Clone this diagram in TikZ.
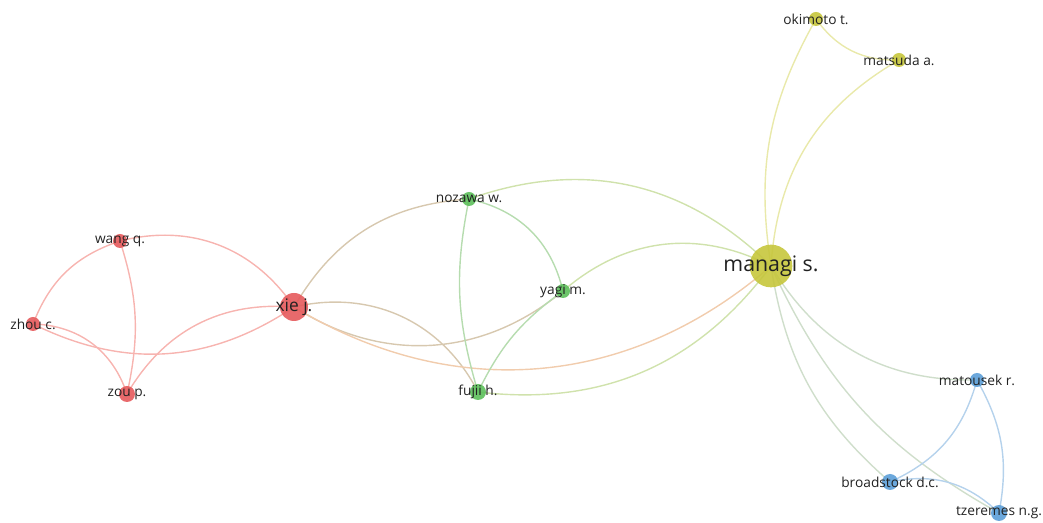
\documentclass[tikz,border=0pt]{standalone}
\usepackage{fontspec}
\setmainfont{Open Sans}
\pgfdeclarelayer{links}
\pgfsetlayers{links,main}
\definecolor{nRed}{HTML}{E65A5C}
\definecolor{nGreen}{HTML}{5CBF5A}
\definecolor{nYellow}{HTML}{C6C63C}
\definecolor{nBlue}{HTML}{5C9FD8}
\definecolor{eRed}{HTML}{F7B4B0}
\definecolor{eGreen}{HTML}{B6DCAF}
\definecolor{eYellow}{HTML}{E9E9AA}
\definecolor{eBlue}{HTML}{B5D2EC}
\definecolor{txt}{HTML}{222222}
\begin{document}
\begin{tikzpicture}[x=0.75pt,y=-0.75pt,
  author/.style={circle,inner sep=0pt,draw=none,fill opacity=0.9},
  small/.style={author,minimum size=10.5pt},
  mid/.style={author,minimum size=12pt},
  red/.style={fill=nRed},
  green/.style={fill=nGreen},
  yellow/.style={fill=nYellow},
  blue/.style={fill=nBlue},
  lab/.style={text=txt,inner sep=0pt,font=\fontsize{10.3}{12}\selectfont},
  link/.style={line width=1.05pt},
  lr/.style={link,draw=eRed},
  lg/.style={link,draw=eGreen},
  ly/.style={link,draw=eYellow},
  lb/.style={link,draw=eBlue},
  lrg/.style={link,draw=eRed!50!eGreen},
  lry/.style={link,draw=eRed!55!eYellow},
  lgy/.style={link,draw=eGreen!50!eYellow},
  lyb/.style={link,draw=eYellow!50!eBlue}]
\useasboundingbox (0,0) rectangle (1043,523);

% authors
\node[small,yellow] (okimoto) at (816,19) {};
\node[small,yellow] (matsuda) at (899,60) {};
\node[author,yellow,minimum size=32pt] (managi) at (771,266) {};
\node[small,green] (nozawa) at (469,199) {};
\node[small,green] (yagi) at (563,291) {};
\node[mid,green] (fujii) at (478,392) {};
\node[author,red,minimum size=21pt] (xie) at (294,307) {};
\node[small,red] (wang) at (120,241) {};
\node[small,red] (zhou) at (33,324) {};
\node[mid,red] (zou) at (127,394) {};
\node[small,blue] (matousek) at (977,380) {};
\node[mid,blue] (broadstock) at (890,482) {};
\node[mid,blue] (tzeremes) at (999,513) {};

% co-authorship links (y axis points down, so bends read mirrored)
\begin{pgfonlayer}{links}
\draw[lr] (zhou.center) to[bend left=25] (wang.center);
\draw[lr] (wang.center) to[bend left=35] (xie.center);
\draw[lr] (wang.center) to[bend left=15] (zou.center);
\draw[lr] (zhou.center) to[bend left=35] (zou.center);
\draw[lr] (zhou.center) to[bend right=30] (xie.center);
\draw[lr] (zou.center) to[bend left=32] (xie.center);
\draw[lrg] (xie.center) to[bend left=28] (nozawa.center);
\draw[lrg] (xie.center) to[bend left=38] (fujii.center);
\draw[lrg] (xie.center) to[bend right=36] (yagi.center);
\draw[lry] (xie.center) to[bend right=36] (managi.center);
\draw[lgy] (nozawa.center) to[bend left=32] (managi.center);
\draw[lg] (nozawa.center) to[bend left=32] (yagi.center);
\draw[lg] (nozawa.center) to[bend right=14] (fujii.center);
\draw[lg] (yagi.center) to[bend right=14] (fujii.center);
\draw[lgy] (yagi.center) to[bend left=34] (managi.center);
\draw[lgy] (fujii.center) to[bend right=30] (managi.center);
\draw[ly] (managi.center) to[bend left=19] (okimoto.center);
\draw[ly] (managi.center) to[bend left=28] (matsuda.center);
\draw[ly] (okimoto.center) to[bend right=28] (matsuda.center);
\draw[lyb] (managi.center) to[bend right=30] (matousek.center);
\draw[lyb] (managi.center) to[bend right=20] (broadstock.center);
\draw[lyb] (managi.center) to[bend right=18] (tzeremes.center);
\draw[lb] (broadstock.center) to[bend right=25] (matousek.center);
\draw[lb] (matousek.center) to[bend left=20] (tzeremes.center);
\draw[lb] (broadstock.center) to[bend left=28] (tzeremes.center);
\end{pgfonlayer}

% names
\node[lab] (okimotoL) at (okimoto) {okimoto t.};
\node[lab] (matsudaL) at (matsuda) {matsuda a.};
\node[lab,font=\fontsize{16}{19}\selectfont] (managiL) at (managi) {managi s.};
\node[lab] (nozawaL) at (nozawa) {nozawa w.};
\node[lab] (yagiL) at (yagi) {yagi m.};
\node[lab] (fujiiL) at (fujii) {fujii h.};
\node[lab,font=\fontsize{13}{15}\selectfont] (xieL) at (xie) {xie j.};
\node[lab] (wangL) at (wang) {wang q.};
\node[lab] (zhouL) at (zhou) {zhou c.};
\node[lab] (zouL) at (zou) {zou p.};
\node[lab] (matousekL) at (matousek) {matousek r.};
\node[lab] (broadstockL) at (broadstock) {broadstock d.c.};
\node[lab] (tzeremesL) at (tzeremes) {tzeremes n.g.};
\end{tikzpicture}
\end{document}
